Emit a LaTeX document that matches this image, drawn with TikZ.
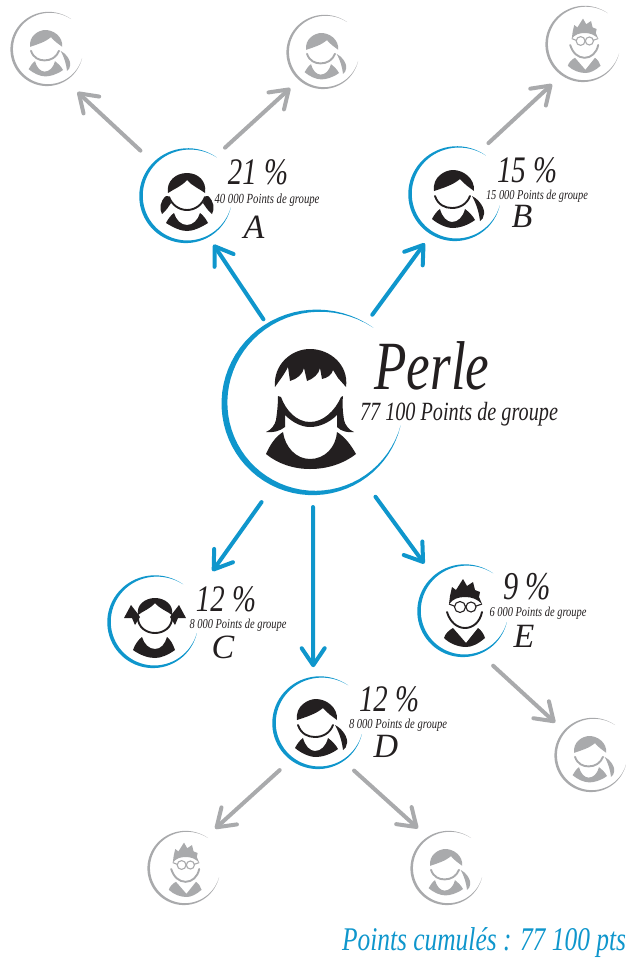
\documentclass[tikz,border=0pt]{standalone}
\usepackage{fontspec}
\setmainfont{Liberation Serif}
\usetikzlibrary{arrows.meta}
\definecolor{bluec}{HTML}{0F96CC}
\definecolor{greyc}{HTML}{A9AAAC}
\definecolor{blackc}{HTML}{231F20}
\newcommand\fitw[3][1.3]{\resizebox{#2pt}{!}{\scalebox{1}[#1]{\itshape #3}}}
% hand-drawn ring: R = radius, W = largest thickness
\newcommand\ringshape[3]{%
 \fill[#3] plot[domain=0:1,samples=60] ({(#1)*(1+.09*(1-\x)*(1-\x)*(1-\x))*cos(52+295*\x)},{-(#1)*(1+.09*(1-\x)*(1-\x)*(1-\x))*sin(52+295*\x)})
  -- plot[domain=1:0,samples=60] ({((#1)*(1+.09*(1-\x)*(1-\x)*(1-\x))-(#2)*sin(180*\x))*cos(52+295*\x)},{-((#1)*(1+.09*(1-\x)*(1-\x)*(1-\x))-(#2)*sin(180*\x))*sin(52+295*\x)}) -- cycle;}
\newcommand\iconPony{%
 \fill[ink] (-21,-4) .. controls (-23,-18) and (-10,-25) .. (-2,-25) .. controls (8,-25) and (20,-17) .. (19,-4) .. controls (15,-7) and (9,-11) .. (5,-16) .. controls (-2,-10) and (-12,-7) .. (-21,-4) -- cycle;
 \draw[ink,chin] (-20,1) .. controls (-17,10) and (-10,13) .. (-3,13) .. controls (5,13) and (12,9) .. (15,1);
 \fill[ink] (17,1) .. controls (25,5) and (30,14) .. (29,19) .. controls (29,22) and (27,25) .. (25,26) .. controls (24,18) and (22,10) .. (17,1) -- cycle;
 \fill[ink] (-15,14) .. controls (-13,22) and (-8,27) .. (-3,27) .. controls (3,27) and (8,22) .. (10,14) .. controls (14,17) and (18,21) .. (20,25) .. controls (12,31) and (3,33) .. (-2,33) .. controls (-9,33) and (-17,29) .. (-23,24) .. controls (-21,20) and (-18,16) .. (-15,14) -- cycle;}
\newcommand\iconPig{%
 \fill[ink] (-18,-4) .. controls (-20,-16) and (-10,-24) .. (1,-24) .. controls (12,-24) and (21,-16) .. (19,-4) .. controls (14,-8) and (6,-11) .. (1,-17) .. controls (-4,-11) and (-12,-8) .. (-18,-4) -- cycle;
 \draw[ink,chin] (-17,0) .. controls (-14,8) and (-7,13) .. (1,13) .. controls (9,13) and (16,8) .. (19,0);
 \fill[ink] (-20,-1) .. controls (-26,4) and (-27,12) .. (-24,17) .. controls (-20,14) and (-17,9) .. (-15,6) -- (-18,-1) -- cycle;
 \fill[ink] (22,-1) .. controls (28,4) and (29,12) .. (26,17) .. controls (22,14) and (19,9) .. (17,6) -- (20,-1) -- cycle;
 \fill[ink] (-12,16) .. controls (-10,23) and (-5,28) .. (1,28) .. controls (7,28) and (12,23) .. (14,16) .. controls (17,18) and (20,22) .. (22,26) .. controls (14,31) and (7,34) .. (1,34) .. controls (-5,34) and (-12,31) .. (-20,26) .. controls (-18,22) and (-15,18) .. (-12,16) -- cycle;}
\newcommand\iconBow{%
 \fill[ink] (-15,-8) .. controls (-17,-18) and (-8,-25) .. (2,-25) .. controls (12,-25) and (21,-18) .. (19,-8) .. controls (14,-12) and (7,-14) .. (2,-20) .. controls (-3,-14) and (-10,-12) .. (-15,-8) -- cycle;
 \draw[ink,chin] (-15,-5) .. controls (-15,4) and (-7,10) .. (2,10) .. controls (11,10) and (19,4) .. (19,-5);
 \fill[ink] (-15,-9) -- (-22,-18) -- (-29,-5) -- (-21,-5) -- (-18,2) -- (-13,-6) -- cycle;
 \fill[ink] (19,-9) -- (26,-18) -- (33,-5) -- (25,-5) -- (22,2) -- (17,-6) -- cycle;
 \fill[ink] (-11,14) .. controls (-9,21) and (-4,26) .. (2,26) .. controls (8,26) and (12,21) .. (14,14) .. controls (17,16) and (20,21) .. (22,27) .. controls (15,32) and (8,35) .. (2,35) .. controls (-5,35) and (-13,32) .. (-20,27) .. controls (-18,21) and (-14,16) .. (-11,14) -- cycle;}
\newcommand\iconBoy{%
 \fill[ink] (-14,-8) -- (-13,-16) -- (-11,-25) -- (-7,-22) -- (0,-33) -- (4,-26) -- (10,-30) -- (12,-22) -- (17,-20) -- (16,-15) -- (19,-8) .. controls (14,-13) and (9,-15) .. (2,-15) .. controls (-5,-15) and (-10,-13) .. (-14,-8) -- cycle;
 \draw[ink,glass] (-3,-5) circle (5.5) (8,-5) circle (5) (2.5,-6) -- (3,-6) (-9,-6) -- (-14,-8) (13,-6) -- (19,-8);
 \draw[ink,chin] (-16,0) .. controls (-13,10) and (-6,16) .. (2,16) .. controls (10,16) and (17,10) .. (19,0);
 \fill[ink] (-10,16) -- (3,31) -- (15,16) .. controls (18,18) and (21,22) .. (22,26) .. controls (15,32) and (9,35) .. (3,35) .. controls (-4,35) and (-13,32) .. (-19,26) .. controls (-18,22) and (-14,18) .. (-10,16) -- cycle;}
\newcommand\iconPerle{%
 \fill[ink] (-38,-18) .. controls (-40,-40) and (-22,-56) .. (-3,-56) .. controls (17,-56) and (36,-40) .. (33,-18) -- (25,-27) -- (20,-35) .. controls (19,-30) and (14,-27) .. (9,-26) -- (7,-37) .. controls (6,-31) and (0,-26) .. (-6,-24) -- (-9,-37) .. controls (-10,-31) and (-16,-26) .. (-23,-24) -- (-25,-38) .. controls (-29,-30) and (-34,-24) .. (-38,-18) -- cycle;
 \fill[ink] (-35,-9) .. controls (-35,0) and (-36,8) .. (-37,15) .. controls (-38,20) and (-42,25) .. (-47,27) .. controls (-40,28) and (-33,26) .. (-28,22) -- (-28,10) .. controls (-20,18) and (-11,22) .. (-3,22) .. controls (6,22) and (16,18) .. (24,10) -- (24,22) .. controls (28,26) and (34,28) .. (41,27) .. controls (36,25) and (32,20) .. (31,15) .. controls (30,8) and (29,0) .. (30,-9) -- (28,-8) .. controls (22,6) and (10,17) .. (-3,17) .. controls (-16,17) and (-27,6) .. (-32,-8) -- cycle;
 \fill[ink] (-30,27) .. controls (-28,42) and (-17,54) .. (-3,54) .. controls (12,54) and (23,42) .. (24,27) .. controls (32,32) and (38,40) .. (43,49) .. controls (30,59) and (14,64) .. (-3,64) .. controls (-19,64) and (-35,59) .. (-47,49) .. controls (-43,40) and (-38,32) .. (-30,27) -- cycle;}
% #1 name #2 x #3 y #4 scale #5 icon #6 node diameter #7 radius of ring #8 thickness #9 ring colour
\newcommand\who[9]{%
 \node[circle,draw=none,minimum size=#6pt,inner sep=0pt,outer sep=0pt] (#1) at (#2,#3) {};
 \begin{scope}[shift={(#2,#3)}]
  \ringshape{#7}{#8}{#9}
  \begin{scope}[scale=#4]#5\end{scope}
 \end{scope}}
\tikzset{
 chin/.style={line width=1.9pt,line cap=round},
 glass/.style={line width=1.1pt},
 tip/.style={-{Straight Barb[length=17pt,width=23pt,line width=4pt,round]}},
 barrow/.style={tip,draw=bluec,line width=4pt,line cap=round},
 garrow/.style={tip,draw=greyc,line width=4pt,line cap=round},
 label/.style={inner sep=0pt,outer sep=0pt,text=blackc},
 letter/.style={label,font=\fontsize{34}{34}\selectfont\itshape}
}
\begin{document}
\begin{tikzpicture}[x=1pt,y=-1pt]
\useasboundingbox (0,0) rectangle (626,969);
% black family
\colorlet{ink}{blackc}
\who{P}{313}{405}{1}{\iconPerle}{196}{90}{6}{bluec}
\who{A}{186}{197}{1}{\iconPig}{110}{46}{3.6}{bluec}
\who{B}{455}{195}{1}{\iconPony}{110}{46}{3.6}{bluec}
\who{C}{153}{623}{1}{\iconBow}{110}{45}{3.6}{bluec}
\who{D}{318}{724}{1}{\iconPony}{110}{45}{3.6}{bluec}
\who{E}{463}{612}{1}{\iconBoy}{110}{45}{3.6}{bluec}
% grey family
\colorlet{ink}{greyc}
\who{G1}{47}{50}{.8}{\iconPony}{96}{36}{2.6}{greyc}
\who{G2}{323}{53}{.8}{\iconPony}{96}{36}{2.6}{greyc}
\who{G3}{583}{45}{.8}{\iconBoy}{96}{37}{2.6}{greyc}
\who{G4}{591}{756}{.8}{\iconPony}{96}{36}{2.6}{greyc}
\who{G5}{184}{869}{.8}{\iconBoy}{96}{36}{2.6}{greyc}
\who{G6}{447}{869}{.8}{\iconPony}{96}{36}{2.6}{greyc}
% arrows
\draw[barrow,shorten <=1pt] (P.120) -- (A.-60);
\draw[barrow,shorten <=10pt,shorten >=2pt] (P.57) -- (B.-122);
\draw[barrow,shorten <=12pt,shorten >=25pt] (P.-117) -- (C.35);
\draw[barrow,shorten <=4pt,shorten >=2pt] (P.-90) -- (D.95);
\draw[barrow,shorten <=13pt,shorten >=7pt] (P.-56) -- (E.129);
\draw[garrow,shorten <=10pt,shorten >=4pt] (A.134) -- (G1.-55);
\draw[garrow,shorten <=8pt] (A.53) -- (G2.-133);
\draw[garrow,shorten <=7pt,shorten >=2pt] (B.59) -- (G3.-128);
\draw[garrow,shorten <=7pt,shorten >=1pt] (E.-63) -- (G4.137);
\draw[garrow,shorten <=5pt,shorten >=3pt] (D.-129) -- (G5.53);
\draw[garrow,shorten <=4pt,shorten >=2pt] (D.-53) -- (G6.125);
% labels
\node[label] (tP) at (432,366) {\fitw[1.3]{115}{Perle}};
\node[label] (tPp) at (459,414) {\fitw{198}{77 100 Points de groupe}};
\node[label] (tA1) at (258,172) {\fitw{60}{21 \%}};
\node[label] (tA2) at (267,200) {\fitw{105}{40 000 Points de groupe}};
\node[letter] (tA3) at (254,227) {A};
\node[label] (tB1) at (527,170) {\fitw{60}{15 \%}};
\node[label] (tB2) at (537,196) {\fitw{102}{15 000 Points de groupe}};
\node[letter] (tB3) at (522,216) {B};
\node[label] (tC1) at (226,599) {\fitw{60}{12 \%}};
\node[label] (tC2) at (238,625) {\fitw{97}{8 000 Points de groupe}};
\node[letter] (tC3) at (223,647) {C};
\node[label] (tD1) at (389,699) {\fitw{60}{12 \%}};
\node[label] (tD2) at (398,725) {\fitw{98}{8 000 Points de groupe}};
\node[letter] (tD3) at (386,746) {D};
\node[label] (tE1) at (527,587) {\fitw{48}{9 \%}};
\node[label] (tE2) at (538,613) {\fitw{97}{6 000 Points de groupe}};
\node[letter] (tE3) at (524,636) {E};
\node[label,text=bluec] (tot) at (484,943) {\fitw{284}{Points cumulés : 77 100 pts}};
\end{tikzpicture}
\end{document}
